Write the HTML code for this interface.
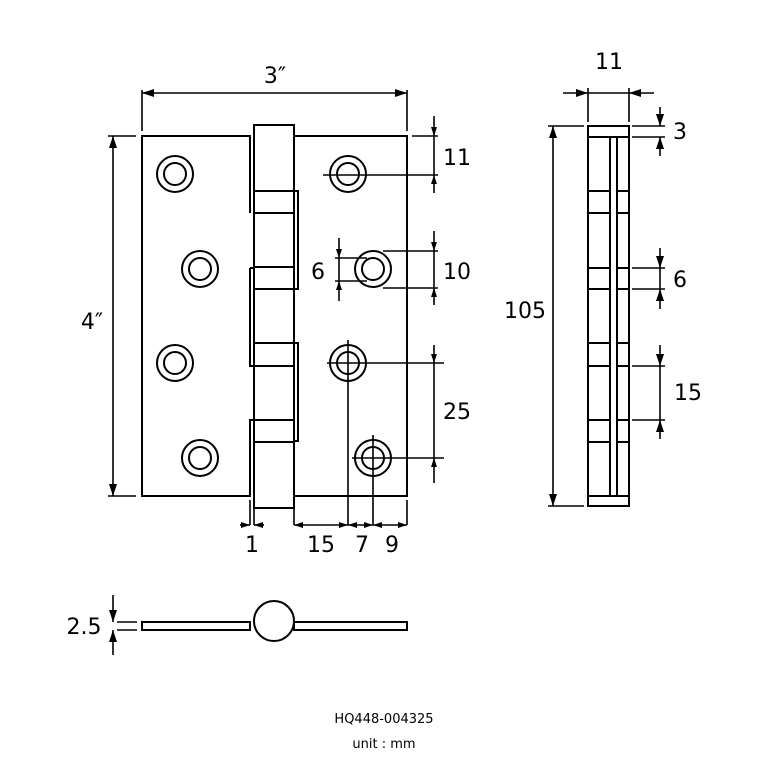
<!DOCTYPE html>
<html><head><style>body{margin:0;background:#fff}svg{display:block}text{font-family:"DejaVu Sans","Liberation Sans",sans-serif;fill:#000}</style></head><body>
<svg width="768" height="768" viewBox="0 0 768 768" xmlns="http://www.w3.org/2000/svg">
<defs>
<marker id="a" viewBox="0 0 12 8" refX="12" refY="4" markerWidth="12" markerHeight="8" markerUnits="userSpaceOnUse" orient="auto-start-reverse"><path d="M0,0L12,4L0,8z" fill="#000"/></marker>
<marker id="s" viewBox="0 0 9 6" refX="9" refY="3" markerWidth="9" markerHeight="6" markerUnits="userSpaceOnUse" orient="auto-start-reverse"><path d="M0,0L9,3L0,6z" fill="#000"/></marker>
</defs>
<g fill="none" stroke="#000" stroke-width="2">
<path d="M250,213V136H142V496H250V420H254"/>
<path d="M250,268H254M250,268V366H254"/>
<path d="M294,136H407V496H294"/>
<path d="M294,191H298V289H294M294,343H298V441H294"/>
<rect x="254" y="125" width="40" height="383"/>
<path d="M254,191H294M254,213H294M254,267H294M254,289H294M254,343H294M254,366H294M254,420H294M254,442H294"/>
<circle cx="175" cy="174" r="18"/><circle cx="175" cy="174" r="11"/>
<circle cx="200" cy="269" r="18"/><circle cx="200" cy="269" r="11"/>
<circle cx="175" cy="363" r="18"/><circle cx="175" cy="363" r="11"/>
<circle cx="200" cy="458" r="18"/><circle cx="200" cy="458" r="11"/>
<circle cx="348" cy="174" r="18"/><circle cx="348" cy="174" r="11"/>
<circle cx="373" cy="269" r="18"/><circle cx="373" cy="269" r="11"/>
<circle cx="348" cy="363" r="18"/><circle cx="348" cy="363" r="11"/>
<circle cx="373" cy="458" r="18"/><circle cx="373" cy="458" r="11"/>
<rect x="588" y="126" width="41" height="380"/>
<path d="M588,137H629M588,496H629M610,137V496M617,137V496"/>
<path d="M588,191H610M588,213H610M588,268H610M588,289H610M588,343H610M588,366H610M588,420H610M588,442H610"/>
<path d="M617,191H629M617,213H629M617,268H629M617,289H629M617,343H629M617,366H629M617,420H629M617,442H629"/>
<rect x="142" y="622" width="108" height="8"/>
<rect x="294" y="622" width="113" height="8"/>
<circle cx="274" cy="621" r="20" fill="#fff"/>
</g>
<g fill="none" stroke="#000" stroke-width="1.6">
<path d="M142,90V131M407,90V131"/>
<path d="M142,93H407" marker-start="url(#a)" marker-end="url(#a)"/>
<path d="M108,136H136M108,496H136"/>
<path d="M113,136V496" marker-start="url(#a)" marker-end="url(#a)"/>
<path d="M412,136H438M323,175H438"/>
<path d="M434,116V136" marker-end="url(#s)"/><path d="M434,193V175" marker-end="url(#s)"/><path d="M434,136V175"/>
<path d="M383,251H438M383,288H438"/>
<path d="M434,231V251" marker-end="url(#s)"/><path d="M434,305V288" marker-end="url(#s)"/><path d="M434,251V288"/>
<path d="M327,363H444M352,458H444"/>
<path d="M434,345V363" marker-end="url(#s)"/><path d="M434,483V458" marker-end="url(#s)"/><path d="M434,363V458"/>
<path d="M335,258H367M335,281H367"/>
<path d="M339,238V258" marker-end="url(#s)"/><path d="M339,301V281" marker-end="url(#s)"/><path d="M339,258V281"/>
<path d="M348,340V525M373,435V525M250,500V525M254,508V525M294,508V525M407,500V525"/>
<path d="M240,525H250" marker-end="url(#s)"/><path d="M264,525H254" marker-end="url(#s)"/>
<path d="M294,525H348" marker-start="url(#s)" marker-end="url(#s)"/>
<path d="M348,525H373" marker-start="url(#s)" marker-end="url(#s)"/>
<path d="M373,525H407" marker-start="url(#s)" marker-end="url(#s)"/>
<path d="M117,622H137M117,630H137"/>
<path d="M113,595V622" marker-end="url(#a)"/><path d="M113,655V630" marker-end="url(#a)"/>
<path d="M588,88V122M629,88V122"/>
<path d="M563,93H588" marker-end="url(#a)"/><path d="M654,93H629" marker-end="url(#a)"/><path d="M588,93H629"/>
<path d="M548,126H584M548,506H584"/>
<path d="M553,126V506" marker-start="url(#a)" marker-end="url(#a)"/>
<path d="M632,126H665M632,137H665"/>
<path d="M660,107V126" marker-end="url(#a)"/><path d="M660,156V137" marker-end="url(#a)"/>
<path d="M632,268H665M632,289H665"/>
<path d="M660,248V268" marker-end="url(#a)"/><path d="M660,309V289" marker-end="url(#a)"/><path d="M660,268V289"/>
<path d="M632,366H665M632,420H665"/>
<path d="M660,345V366" marker-end="url(#a)"/><path d="M660,439V420" marker-end="url(#a)"/><path d="M660,366V420"/>
</g>
<g font-size="22">
<text x="275" y="83" text-anchor="middle">3″</text>
<text x="92" y="329" text-anchor="middle">4″</text>
<text x="457" y="165" text-anchor="middle">11</text>
<text x="457" y="279" text-anchor="middle">10</text>
<text x="457" y="419" text-anchor="middle">25</text>
<text x="318" y="279" text-anchor="middle">6</text>
<text x="252" y="552" text-anchor="middle">1</text>
<text x="321" y="552" text-anchor="middle">15</text>
<text x="362" y="552" text-anchor="middle">7</text>
<text x="392" y="552" text-anchor="middle">9</text>
<text x="84" y="634" text-anchor="middle">2.5</text>
<text x="609" y="69" text-anchor="middle">11</text>
<text x="525" y="318" text-anchor="middle">105</text>
<text x="680" y="139" text-anchor="middle">3</text>
<text x="680" y="287" text-anchor="middle">6</text>
<text x="688" y="400" text-anchor="middle">15</text>
</g>
<text x="384" y="723" font-size="13" text-anchor="middle">HQ448-004325</text>
<text x="384" y="748" font-size="13" text-anchor="middle">unit : mm</text>
</svg>
</body></html>
